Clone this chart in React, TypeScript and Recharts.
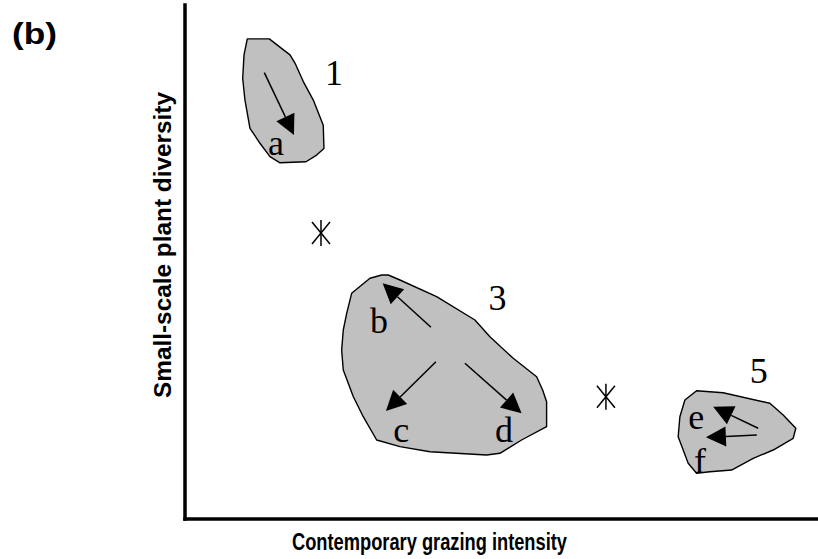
import { Scatter, ScatterChart, XAxis, YAxis } from 'recharts'

// conceptual axes, 0-100 on both
const cluster1 = [
  { x: 9.89, y: 93.4 }, { x: 13.38, y: 93.4 }, { x: 14.97, y: 91.9 }, { x: 16.67, y: 90.3 },
  { x: 17.46, y: 88.7 }, { x: 18.78, y: 85.1 }, { x: 20.37, y: 81.5 }, { x: 21.95, y: 76.6 },
  { x: 22.06, y: 72.1 }, { x: 20.9, y: 70.8 }, { x: 19.21, y: 69.5 }, { x: 15.08, y: 69.3 },
  { x: 13.49, y: 70.5 }, { x: 11.9, y: 73.1 }, { x: 10.32, y: 76.0 }, { x: 9.52, y: 81.5 },
  { x: 9.16, y: 85.7 }, { x: 9.37, y: 90.3 },
]
const cluster3 = [
  { x: 31.22, y: 47.47 }, { x: 32.27, y: 47.47 }, { x: 34.13, y: 46.5 }, { x: 39.95, y: 43.25 },
  { x: 46.03, y: 38.72 }, { x: 48.41, y: 35.47 }, { x: 52.11, y: 31.26 }, { x: 55.83, y: 27.68 },
  { x: 56.78, y: 25.1 }, { x: 57.41, y: 22.82 }, { x: 57.41, y: 17.96 }, { x: 53.44, y: 15.37 },
  { x: 50.0, y: 12.78 }, { x: 47.89, y: 12.45 }, { x: 38.89, y: 13.09 }, { x: 34.13, y: 14.07 },
  { x: 30.43, y: 15.37 }, { x: 28.3, y: 19.9 }, { x: 26.71, y: 23.83 }, { x: 25.13, y: 28.99 },
  { x: 24.87, y: 32.88 }, { x: 25.13, y: 36.77 }, { x: 25.67, y: 40.02 }, { x: 26.46, y: 43.91 },
  { x: 28.05, y: 45.53 }, { x: 29.37, y: 46.83 },
]
const cluster5 = [
  { x: 81.22, y: 24.96 }, { x: 85.44, y: 24.57 }, { x: 92.86, y: 22.51 }, { x: 94.97, y: 20.23 },
  { x: 96.98, y: 17.65 }, { x: 96.56, y: 15.7 }, { x: 93.38, y: 13.42 }, { x: 90.21, y: 11.81 },
  { x: 86.78, y: 9.53 }, { x: 83.33, y: 9.2 }, { x: 81.22, y: 8.89 }, { x: 79.89, y: 10.84 },
  { x: 78.3, y: 16.01 }, { x: 78.57, y: 19.9 }, { x: 79.37, y: 23.15 },
]

// arrows: [from, to]
const arrowA = [{ x: 12.59, y: 86.83 }, { x: 17.3, y: 74.71 }]
const arrowB = [{ x: 39.05, y: 37.3 }, { x: 31.38, y: 45.86 }]
const arrowC = [{ x: 39.84, y: 30.6 }, { x: 31.9, y: 21.01 }]
const arrowD = [{ x: 44.44, y: 30.29 }, { x: 53.44, y: 20.56 }]
const arrowE = [{ x: 91.0, y: 17.65 }, { x: 83.86, y: 21.85 }]
const arrowF = [{ x: 90.79, y: 16.34 }, { x: 82.7, y: 15.89 }]
const arrows = [arrowA, arrowB, arrowC, arrowD, arrowE, arrowF]

const stars = [{ x: 21.59, y: 55.64 }, { x: 66.83, y: 23.79 }]

const labels = [
  { x: 23.65, y: 84.44, text: '1' },
  { x: 14.44, y: 70.82, text: 'a' },
  { x: 49.6, y: 40.66, text: '3' },
  { x: 30.79, y: 36.25, text: 'b' },
  { x: 34.33, y: 15.04, text: 'c' },
  { x: 50.63, y: 14.98, text: 'd' },
  { x: 91.08, y: 26.4, text: '5' },
  { x: 81.16, y: 17.45, text: 'e' },
  { x: 81.75, y: 8.89, text: 'f' },
]

const serif = "'Liberation Serif', 'Times New Roman', serif"
const sans = "'Liberation Sans', Arial, sans-serif"

const closed = (pts: { x: number; y: number }[]) => [...pts, pts[0]]
const none = () => <g />

const polygonLine = (props: any) => {
  const pts = props.points || []
  if (!pts.length) return <g />
  const d = pts.map((p: any, i: number) => `${i ? 'L' : 'M'}${p.x},${p.y}`).join(' ') + ' Z'
  return <path d={d} fill="#c0c0c0" stroke="#000" strokeWidth={1.4} strokeLinejoin="round" />
}

const arrowLine = (props: any) => {
  const pts = props.points || []
  if (pts.length < 2) return <g />
  const [a, b] = pts
  const dx = b.x - a.x
  const dy = b.y - a.y
  const len = Math.hypot(dx, dy)
  const ux = dx / len
  const uy = dy / len
  const head = 20
  const half = 10
  const bx = b.x - ux * head
  const by = b.y - uy * head
  return (
    <g>
      <line x1={a.x} y1={a.y} x2={bx} y2={by} stroke="#000" strokeWidth={1.5} />
      <polygon
        points={`${b.x},${b.y} ${bx - uy * half},${by + ux * half} ${bx + uy * half},${by - ux * half}`}
        fill="#000"
      />
    </g>
  )
}

const Star = (props: any) => {
  const { cx, cy } = props
  return (
    <g stroke="#000" strokeWidth={1.5}>
      <line x1={cx} y1={cy - 13} x2={cx} y2={cy + 13} />
      <line x1={cx - 9} y1={cy - 11} x2={cx + 9} y2={cy + 11} />
      <line x1={cx + 9} y1={cy - 11} x2={cx - 9} y2={cy + 11} />
    </g>
  )
}

const Letter = (props: any) => (
  <text x={props.cx} y={props.cy} textAnchor="middle" fontFamily={serif} fontSize={36} fill="#000">
    {props.payload?.text ?? props.text}
  </text>
)

const XTitle = () => (
  <text x={292} y={550} fontFamily={sans} fontWeight="bold" fontSize={23} textLength={275}
    lengthAdjust="spacingAndGlyphs" fill="#000">
    Contemporary grazing intensity
  </text>
)

const YTitle = () => (
  <g>
    <text x={12} y={44} fontFamily={sans} fontWeight="bold" fontSize={30} textLength={45}
      lengthAdjust="spacingAndGlyphs" fill="#000">
      (b)
    </text>
    <text transform="translate(171, 398) rotate(-90)" fontFamily={sans} fontWeight="bold" fontSize={24}
      textLength={306} lengthAdjust="spacingAndGlyphs" fill="#000">
      Small-scale plant diversity
    </text>
  </g>
)

export default function App() {
  const axisLine = { stroke: '#000', strokeWidth: 3.5, strokeLinecap: 'square' as const }
  return (
    <div style={{ position: 'absolute', left: 0, top: 0, background: '#fff' }}>
      <ScatterChart width={818} height={559} margin={{ top: 5, right: 0, bottom: 0, left: 125 }}>
        <XAxis type="number" dataKey="x" domain={[0, 100.5]} tick={false} tickLine={false}
          axisLine={axisLine} height={40} label={{ content: XTitle }} />
        <YAxis type="number" dataKey="y" domain={[0, 100]} tick={false} tickLine={false}
          axisLine={axisLine} width={60} label={{ content: YTitle }} />
        {[cluster1, cluster3, cluster5].map((c, i) => (
          <Scatter key={`c${i}`} data={closed(c)} shape={none} line={polygonLine} lineType="joint"
            legendType="none" isAnimationActive={false} />
        ))}
        {arrows.map((a, i) => (
          <Scatter key={`a${i}`} data={a} shape={none} line={arrowLine} lineType="joint"
            legendType="none" isAnimationActive={false} />
        ))}
        <Scatter data={stars} shape={Star} legendType="none" isAnimationActive={false} />
        <Scatter data={labels} shape={Letter} legendType="none" isAnimationActive={false} />
      </ScatterChart>
    </div>
  )
}
